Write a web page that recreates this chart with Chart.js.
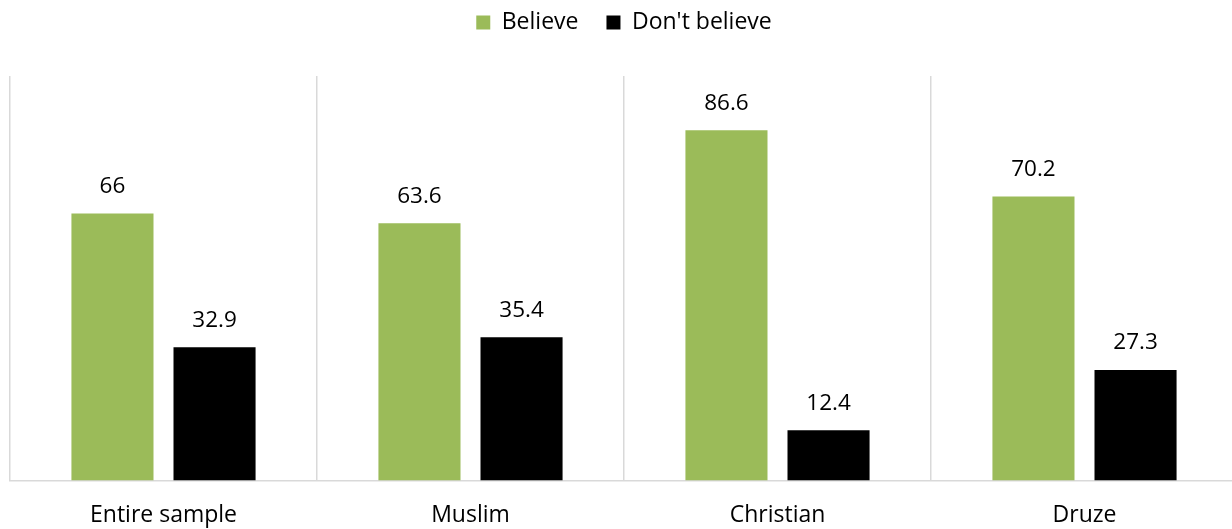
<!DOCTYPE html>
<html>
<head>
<meta charset="utf-8">
<script src="https://cdn.jsdelivr.net/npm/chart.js@4"></script>
<style>
  html, body { margin: 0; padding: 0; background: #fff; overflow: hidden; }
  #wrap { width: 1238px; height: 529px; position: relative; }
</style>
</head>
<body>
<div id="wrap"><canvas id="chart"></canvas></div>
<script>
const categories = ["Entire sample", "Muslim", "Christian", "Druze"];
const believe = [66, 63.6, 86.6, 70.2];
const dontBelieve = [32.9, 35.4, 12.4, 27.3];

const GREEN = "#9BBB59";
const GRID = "#D9D9D9";
const FONT = "'Open Sans', 'DejaVu Sans', sans-serif";

// values above each bar
const barLabels = {
    id: "barLabels",
    afterDatasetsDraw(chart){
        const ctx = chart.ctx;
        ctx.save();
        ctx.font = "22.5px " + FONT;
        ctx.fillStyle = "#000";
        ctx.textAlign = "center";
        ctx.textBaseline = "middle";
        chart.data.datasets.forEach((ds, i) => {
            chart.getDatasetMeta(i).data.forEach((bar, j) => {
                ctx.fillText(String(ds.data[j]), bar.x, bar.y - 27);
            });
        });
        ctx.restore();
    }
};

// push the plot area down below the legend
const legendGap = {
    id: "legendGap",
    beforeInit(chart){
        const fit = chart.legend.fit;
        chart.legend.fit = function(){
            fit.bind(chart.legend)();
            this.height += 32;
        };
    }
};

new Chart(document.getElementById("chart"), {
    type: "bar",
    data: {
        labels: categories,
        datasets: [
            { label: "Believe", data: believe, backgroundColor: GREEN },
            { label: "Don't believe", data: dontBelieve, backgroundColor: "#000" }
        ]
    },
    options: {
        responsive: true,
        maintainAspectRatio: false,
        animation: false,
        layout: { padding: { top: -17, left: 10, right: 0, bottom: -21 } },
        datasets: {
            bar: { categoryPercentage: 0.665, barPercentage: 0.804 }
        },
        plugins: {
            legend: {
                position: "top",
                labels: {
                    boxWidth: 14,
                    boxHeight: 14,
                    padding: 28,
                    color: "#000",
                    font: { family: FONT, size: 23 }
                }
            },
            tooltip: { enabled: false }
        },
        scales: {
            x: {
                offset: true,
                grid: { offset: true, color: GRID, lineWidth: 1.5, drawTicks: false },
                border: { color: GRID, width: 1.5 },
                ticks: { color: "#000", padding: 21, font: { family: FONT, size: 23 } }
            },
            y: {
                display: false,
                min: 0,
                max: 100
            }
        }
    },
    plugins: [barLabels, legendGap]
});
</script>
</body>
</html>
